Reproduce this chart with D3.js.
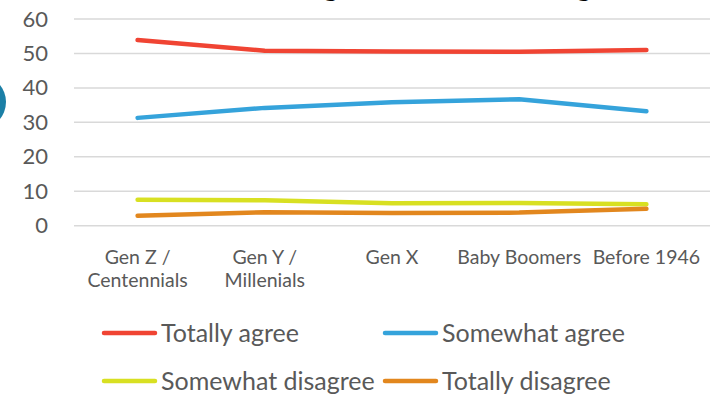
<!DOCTYPE html>
<html>
<head>
<meta charset="utf-8">
<script src="https://cdn.jsdelivr.net/npm/d3@7"></script>
<style>
  body { margin: 0; background: #fff; }
  svg { display: block; font-family: Lato, "Open Sans", sans-serif; }
</style>
</head>
<body>
<main></main>
<script>
const categories = [
  ["Gen Z /", "Centennials"],
  ["Gen Y /", "Millenials"],
  ["Gen X"],
  ["Baby Boomers"],
  ["Before 1946"]
];
const catKeys = categories.map(c => c.join(" "));

const seriesNames = ["Totally agree", "Somewhat agree", "Somewhat disagree", "Totally disagree"];
const totallyAgree = [53.9, 50.8, 50.6, 50.5, 51.0];
const somewhatAgree = [31.3, 34.2, 35.8, 36.7, 33.2];
const somewhatDisagree = [7.5, 7.4, 6.5, 6.6, 6.2];
const totallyDisagree = [2.9, 3.9, 3.7, 3.8, 4.9];
const yTicks = [0, 10, 20, 30, 40, 50, 60];

const colors = ["#f04433", "#35a3db", "#d8e022", "#e2871e"];
const allSeries = [totallyAgree, somewhatAgree, somewhatDisagree, totallyDisagree];

const W = 722, H = 397;
const plotLeft = 74, plotRight = 710, plotTop = 19, plotBottom = 225.7;

const svg = d3.select("main")
  .append("svg")
  .attr("width", W)
  .attr("height", H);

// cropped decoration on the left edge
svg.append("ellipse")
  .attr("cx", -19).attr("cy", 102)
  .attr("rx", 25).attr("ry", 26)
  .attr("fill", "#1b7fa6");

// cropped title, only the descenders of the g's show
const title = svg.append("text")
  .attr("x", 0)
  .attr("y", -5)
  .style("font-size", "30px")
  .style("font-weight", "bold")
  .attr("fill", "#000")
  .text("Agreement across generations");
const g1 = title.node().getStartPositionOfChar(1).x;
const g2 = title.node().getStartPositionOfChar(17).x;
const fs = 30 * 253 / (g2 - g1);
title.style("font-size", fs + "px");
title.attr("x", 322 - title.node().getStartPositionOfChar(1).x);

const xScale = d3.scalePoint()
  .domain(catKeys)
  .range([plotLeft, plotRight])
  .padding(0.5);

const yScale = d3.scaleLinear()
  .domain([0, 60])
  .range([plotBottom, plotTop]);

// gridlines
svg.append("g")
  .selectAll("line")
  .data(yTicks)
  .enter()
  .append("line")
  .attr("x1", plotLeft)
  .attr("x2", plotRight)
  .attr("y1", d => yScale(d))
  .attr("y2", d => yScale(d))
  .attr("stroke", "#d9d9d9")
  .attr("stroke-width", 1.5);

// y-axis labels
const yAxis = svg.append("g")
  .attr("transform", `translate(${plotLeft},0)`)
  .call(d3.axisLeft(yScale).tickValues(yTicks).tickSize(0).tickPadding(26));
yAxis.select(".domain").remove();
yAxis.selectAll("text")
  .style("font-size", "22px")
  .attr("fill", "#595959")
  .style("font-family", "Lato, 'Open Sans', sans-serif");

// x-axis labels (two lines)
const xLab = svg.append("g")
  .selectAll("text")
  .data(categories)
  .enter()
  .append("text")
  .attr("x", (d, i) => xScale(catKeys[i]))
  .attr("y", 264)
  .attr("text-anchor", "middle")
  .attr("fill", "#595959")
  .style("font-size", "19.5px");
xLab.selectAll("tspan")
  .data(d => d)
  .enter()
  .append("tspan")
  .attr("x", function() { return d3.select(this.parentNode).attr("x"); })
  .attr("dy", (d, i) => i === 0 ? 0 : 23)
  .text(d => d);

// lines
const line = d3.line()
  .x((d, i) => xScale(catKeys[i]))
  .y(d => yScale(d));

svg.append("g")
  .selectAll("path")
  .data(allSeries)
  .enter()
  .append("path")
  .attr("d", d => line(d))
  .attr("fill", "none")
  .attr("stroke", (d, i) => colors[i])
  .attr("stroke-width", 4.5)
  .attr("stroke-linecap", "round")
  .attr("stroke-linejoin", "round");

// legend
const legendPos = [[102, 333], [383, 333], [102, 381], [383, 381]];
const legend = svg.append("g")
  .selectAll("g")
  .data(seriesNames)
  .enter()
  .append("g")
  .attr("transform", (d, i) => `translate(${legendPos[i][0]},${legendPos[i][1]})`);
legend.append("line")
  .attr("x1", 2).attr("x2", 53)
  .attr("stroke", (d, i) => colors[i])
  .attr("stroke-width", 4.5)
  .attr("stroke-linecap", "round");
legend.append("text")
  .attr("x", 59)
  .attr("dy", "0.36em")
  .attr("fill", "#595959")
  .style("font-size", "25px")
  .text(d => d);
</script>
</body>
</html>
